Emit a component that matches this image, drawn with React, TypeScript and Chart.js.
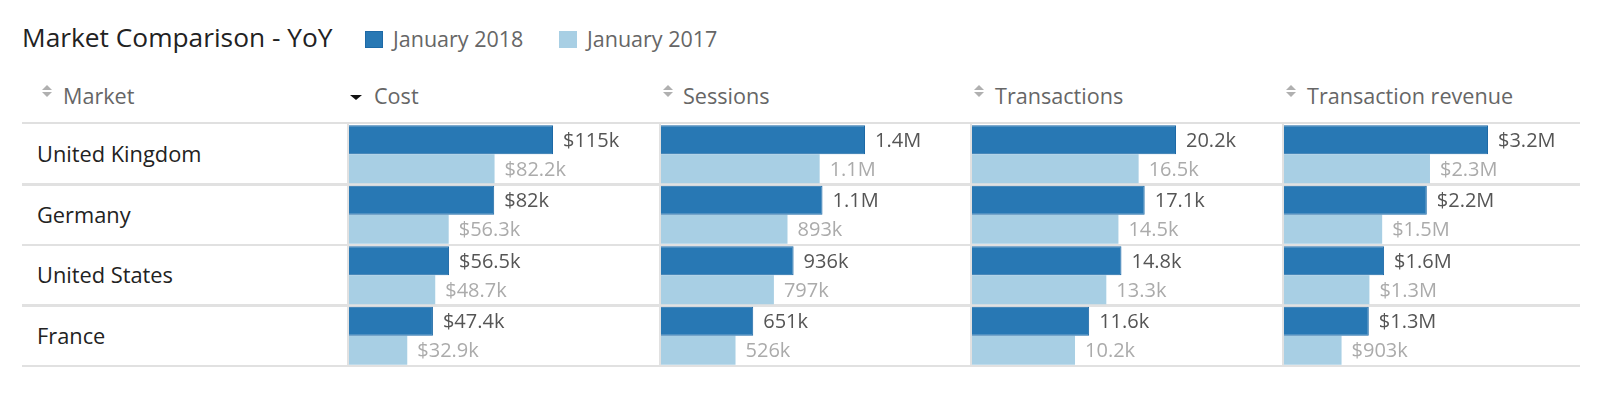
import React, { useEffect, useRef } from "react";
import { Chart, registerables } from "chart.js";

Chart.register(...registerables);

const titleText = "Market Comparison - YoY";
const markets = ["United Kingdom", "Germany", "United States", "France"];
const seriesLabels = ["January 2018", "January 2017"];
const columnTitles = ["Cost", "Sessions", "Transactions", "Transaction revenue"];
const columnPrefixes = ["$", "", "", "$"];
const cost2018 = [115200, 82000, 56500, 47400];
const cost2017 = [82200, 56300, 48700, 32900];
const sessions2018 = [1440000, 1140000, 936000, 651000];
const sessions2017 = [1120000, 893000, 797000, 526000];
const transactions2018 = [20200, 17100, 14800, 11600];
const transactions2017 = [16500, 14500, 13300, 10200];
const revenue2018 = [3200000, 2240000, 1570000, 1330000];
const revenue2017 = [2290000, 1540000, 1340000, 903000];

const columnData2018 = [cost2018, sessions2018, transactions2018, revenue2018];
const columnData2017 = [cost2017, sessions2017, transactions2017, revenue2017];

const COLOR_2018 = "#2878b4";
const BORDER_2018 = "#1d69a6";
const COLOR_2017 = "#a8cfe4";
const LINE = "#e1e1e1";
const FONT = "'Open Sans', sans-serif";

const COL_X = [349, 661, 972, 1284];
const HEAD_TEXT_DX = [25, 22, 23, 23];
const COL_W = 309;
const MAX_BAR = 204;
const BODY_TOP = 124;
const ROW_H = 60.5;
const BODY_H = ROW_H * 4;

function strip(s: string) {
  return s.replace(/\.0$/, "");
}
function fmt(v: number) {
  if (v >= 1e6) return strip((v / 1e6).toFixed(1)) + "M";
  if (v >= 1e5) return Math.round(v / 1e3) + "k";
  return strip((v / 1e3).toFixed(1)) + "k";
}

const valueLabels = {
  id: "valueLabels",
  afterDatasetsDraw(chart: any) {
    const ctx = chart.ctx;
    const prefix = chart.options.plugins.valueLabels.prefix || "";
    chart.data.datasets.forEach((ds: any, di: number) => {
      const meta = chart.getDatasetMeta(di);
      meta.data.forEach((bar: any, i: number) => {
        const v = ds.data[i];
        ctx.save();
        ctx.font = "20px " + FONT;
        ctx.fillStyle = di === 0 ? "#555555" : "#ababab";
        ctx.textBaseline = "alphabetic";
        ctx.textAlign = "left";
        ctx.fillText(prefix + fmt(v), bar.x + 10, bar.y + 7);
        ctx.restore();
      });
    });
  },
};

function BarColumn({ index }: { index: number }) {
  const ref = useRef<HTMLCanvasElement>(null);
  useEffect(() => {
    if (!ref.current) return;
    const d18 = columnData2018[index];
    const d17 = columnData2017[index];
    const maxV = Math.max(...d18, ...d17);
    const chart = new Chart(ref.current, {
      type: "bar",
      data: {
        labels: markets,
        datasets: [
          {
            label: seriesLabels[0],
            data: d18,
            backgroundColor: COLOR_2018,
            borderColor: BORDER_2018,
            borderWidth: 1,
            borderSkipped: "start",
            barPercentage: 1,
            categoryPercentage: (ROW_H - 2.5) / ROW_H,
          },
          {
            label: seriesLabels[1],
            data: d17,
            backgroundColor: COLOR_2017,
            borderWidth: 0,
            barPercentage: 1,
            categoryPercentage: (ROW_H - 2.5) / ROW_H,
          },
        ],
      },
      options: {
        indexAxis: "y",
        responsive: false,
        maintainAspectRatio: false,
        animation: false,
        layout: { padding: 0 },
        scales: {
          x: { display: false, min: 0, max: (maxV * COL_W) / MAX_BAR },
          y: { display: false },
        },
        plugins: {
          legend: { display: false },
          tooltip: { enabled: false },
          valueLabels: { prefix: columnPrefixes[index] },
        } as any,
      },
      plugins: [valueLabels],
    } as any);
    return () => chart.destroy();
  }, [index]);
  return (
    <canvas
      ref={ref}
      width={COL_W}
      height={BODY_H}
      style={{ position: "absolute", left: COL_X[index], top: BODY_TOP, width: COL_W, height: BODY_H }}
    />
  );
}

function SortIcon({ x }: { x: number }) {
  return (
    <div style={{ position: "absolute", left: x, top: 85 }}>
      <div style={{ width: 0, height: 0, borderLeft: "5px solid transparent", borderRight: "5px solid transparent", borderBottom: "5.5px solid #b0b0b0" }} />
      <div style={{ width: 0, height: 0, marginTop: 2, borderLeft: "5px solid transparent", borderRight: "5px solid transparent", borderTop: "5.5px solid #b0b0b0" }} />
    </div>
  );
}

function SortDown({ x }: { x: number }) {
  return (
    <div style={{ position: "absolute", left: x, top: 94.5, width: 0, height: 0, borderLeft: "6px solid transparent", borderRight: "6px solid transparent", borderTop: "5px solid #111111" }} />
  );
}

export default function App() {
  const HF = 21.6;
  const headerTop = 102 - 0.888 * HF + 2;
  const rowBoundaries = [1, 2, 3, 4].map((i) => BODY_TOP + ROW_H * i);
  return (
    <div style={{ position: "fixed", left: 0, top: 0, width: 1600, height: 397, background: "#ffffff", fontFamily: FONT, overflow: "hidden" }}>
      <div style={{ position: "absolute", left: 22, top: 47 - 0.888 * 26.3, fontSize: 26.3, lineHeight: "26.3px", color: "#222222", whiteSpace: "nowrap" }}>{titleText}</div>

      <div style={{ position: "absolute", left: 365, top: 30.5, width: 16, height: 15, background: COLOR_2018, border: "1px solid " + BORDER_2018 }} />
      <div style={{ position: "absolute", left: 393, top: 46.7 - 0.888 * 21.5, fontSize: 21.5, lineHeight: "21.5px", color: "#666666", whiteSpace: "nowrap" }}>{seriesLabels[0]}</div>
      <div style={{ position: "absolute", left: 559, top: 30.5, width: 18, height: 17, background: COLOR_2017 }} />
      <div style={{ position: "absolute", left: 587, top: 46.7 - 0.888 * 21.5, fontSize: 21.5, lineHeight: "21.5px", color: "#666666", whiteSpace: "nowrap" }}>{seriesLabels[1]}</div>

      <SortIcon x={42} />
      <div style={{ position: "absolute", left: 63, top: headerTop, fontSize: HF, lineHeight: HF + "px", color: "#666666", whiteSpace: "nowrap" }}>Market</div>
      {columnTitles.map((t, i) => (
        <React.Fragment key={t}>
          {i === 0 ? <SortDown x={COL_X[i] + 1} /> : <SortIcon x={COL_X[i] + 2} />}
          <div style={{ position: "absolute", left: COL_X[i] + HEAD_TEXT_DX[i], top: headerTop, fontSize: HF, lineHeight: HF + "px", color: "#666666", whiteSpace: "nowrap" }}>{t}</div>
        </React.Fragment>
      ))}

      <div style={{ position: "absolute", left: 22, width: 1558, top: 121.5, height: 2.7, background: "#e0e0e0" }} />
      {rowBoundaries.map((b, i) => (
        <div key={i} style={{ position: "absolute", left: 22, width: 1558, top: b - 1.25, height: 2.5, background: LINE }} />
      ))}
      {COL_X.map((x, i) => (
        <div key={i} style={{ position: "absolute", left: x - 2.5, width: 2.5, top: BODY_TOP, height: BODY_H, background: LINE }} />
      ))}

      {markets.map((m, i) => (
        <div key={m} style={{ position: "absolute", left: 37, top: BODY_TOP + ROW_H * i, height: ROW_H, display: "flex", alignItems: "center", fontSize: 21.8, lineHeight: "21.8px", color: "#222222", whiteSpace: "nowrap" }}>{m}</div>
      ))}

      {columnTitles.map((t, i) => (
        <BarColumn key={t} index={i} />
      ))}
    </div>
  );
}
